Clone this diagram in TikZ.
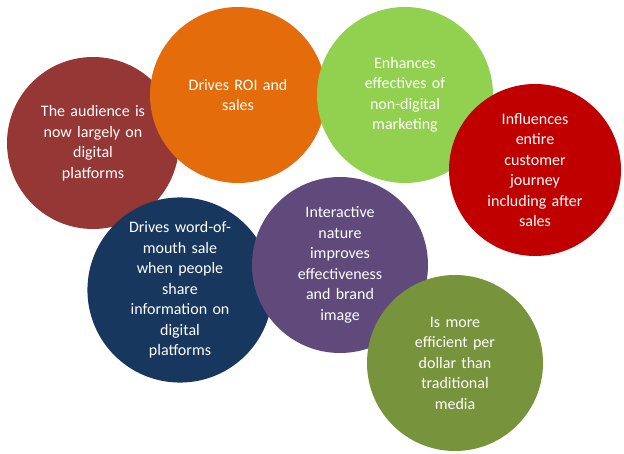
\documentclass[tikz,border=0pt]{standalone}
\usepackage{fontspec}
\setmainfont{Carlito}
\begin{document}
\begin{tikzpicture}[x=1pt,y=-1pt,
  bub/.style={circle,minimum size=176pt,inner sep=0pt,text=white,align=center,font=\fontsize{16}{20.5}\selectfont,text width=125pt}]
\useasboundingbox (0,0) rectangle (624,454);
\definecolor{cA}{HTML}{953735}\definecolor{cB}{HTML}{E46C0A}\definecolor{cC}{HTML}{92D050}
\definecolor{cD}{HTML}{C00000}\definecolor{cE}{HTML}{17375E}\definecolor{cF}{HTML}{604A7B}\definecolor{cG}{HTML}{77933C}
\node[bub,fill=cA,minimum size=172pt] (a) at (93,143) {The audience is\\now largely on\\digital\\platforms};
\node[bub,fill=cB] (b) at (238,95) {Drives ROI and\\sales\\[30pt]};
\node[bub,fill=cC] (c) at (405,95) {Enhances\\effectives of\\non-digital\\marketing};
\node[bub,fill=cD,minimum size=172pt] (d) at (535,170) {Influences\\entire\\customer\\journey\\including after\\sales};
\node[bub,fill=cE,minimum size=180pt] (e) at (180,290) {Drives word-of-\\mouth sale\\when people\\share\\information on\\digital\\platforms};
\node[bub,fill=cF] (f) at (340,265) {Interactive\\nature\\improves\\effectiveness\\and brand\\image\\[20pt]};
\node[bub,fill=cG] (g) at (455,363) {Is more\\efficient per\\dollar than\\traditional\\media};
\end{tikzpicture}
\end{document}
